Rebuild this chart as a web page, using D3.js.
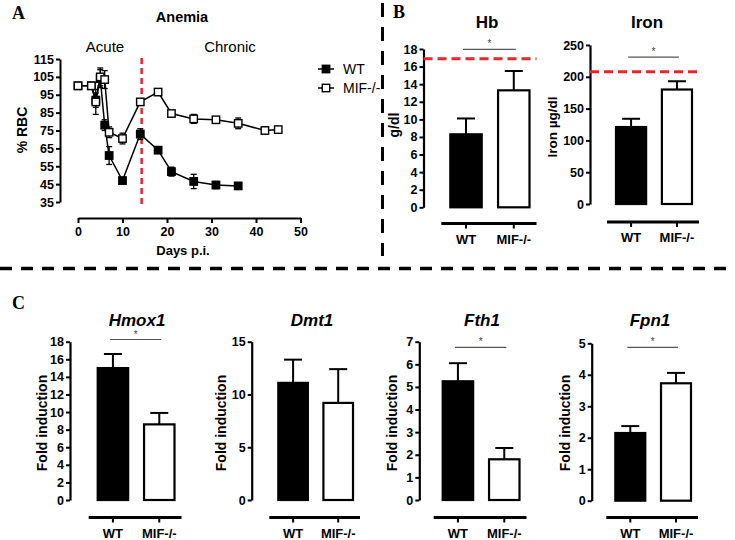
<!DOCTYPE html>
<html>
<head>
<meta charset="utf-8">
<script src="https://cdn.jsdelivr.net/npm/d3@7"></script>
<style>
  html, body { margin: 0; padding: 0; background: #fff; }
  svg { display: block; }
  text { font-family: Arial, "Liberation Sans", sans-serif; }
</style>
</head>
<body>
<svg id="chart" width="735" height="540"></svg>
<script>
// ---------------- DATA ----------------
// Panel A: Anemia time course (% RBC)
const days = [0, 3, 4, 5, 6, 7, 10, 14, 18, 21, 26, 31, 36, 42, 45];
const wtRBC = [100, 100, 92, 104, 78, 61, 47, 73, 64, 52, 46.5, 44.5, 44, null, null];
const wtRBCErr = [0, 0, 4, 5, 3, 5, 1.5, 3, 1, 2.5, 4, 2, 1, null, null];
const mifRBC = [100, 100, 91, 105, 103.5, 74, 70.5, 91, 96.5, 84.5, 81.5, 81, 79, 75, 75.5];
const mifRBCErr = [0, 0, 7, 5, 5, 3, 3, 0, 0, 0, 2.5, 0, 3, 2, 0];
const xTicksA = [0, 10, 20, 30, 40, 50];
const yTicksA = [35, 45, 55, 65, 75, 85, 95, 105, 115];
const transitionDay = 14.3;

// Groups
const groups = ["WT", "MIF-/-"];

// Panel B
const hbValues = [8.3, 13.3];
const hbErrors = [1.8, 2.2];
const hbTicks = [0, 2, 4, 6, 8, 10, 12, 14, 16, 18];
const hbNormal = 16.9;
const ironValues = [121, 180];
const ironErrors = [13, 13];
const ironTicks = [0, 50, 100, 150, 200, 250];
const ironNormal = 208;

// Panel C
const hmoxValues = [15.0, 8.6];
const hmoxErrors = [1.6, 1.3];
const hmoxTicks = [0, 2, 4, 6, 8, 10, 12, 14, 16, 18];
const dmtValues = [11.1, 9.2];
const dmtErrors = [2.2, 3.2];
const dmtTicks = [0, 5, 10, 15];
const fthValues = [5.25, 1.8];
const fthErrors = [0.8, 0.5];
const fthTicks = [0, 1, 2, 3, 4, 5, 6, 7];
const fpnValues = [2.15, 3.73];
const fpnErrors = [0.22, 0.33];
const fpnTicks = [0, 1, 2, 3, 4, 5];

// ---------------- DRAW ----------------
const svg = d3.select("#chart");
const RED = "#e8262a";
const TICK_FONT = "12.5px";
const intFmt = d3.format("d");

// separators
svg.append("line").attr("x1", 382.5).attr("x2", 382.5).attr("y1", 3).attr("y2", 256)
  .attr("stroke", "#000").attr("stroke-width", 3).attr("stroke-dasharray", "14,10");
svg.append("line").attr("x1", 0).attr("x2", 735).attr("y1", 268.5).attr("y2", 268.5)
  .attr("stroke", "#000").attr("stroke-width", 3.5).attr("stroke-dasharray", "12,9");

// panel letters
function letter(t, x, y) {
  svg.append("text").attr("x", x).attr("y", y).text(t)
    .style("font-family", "'Liberation Serif', 'Times New Roman', serif")
    .style("font-weight", "bold").style("font-size", "18px");
}
letter("A", 12, 19);
letter("B", 393, 18);
letter("C", 12, 309);

// ---------- Panel A ----------
(function () {
  const x = d3.scaleLinear().domain([0, 50]).range([78, 300.5]);
  const y = d3.scaleLinear().domain([35, 115]).range([202, 59]);
  const g = svg.append("g");

  g.append("text").attr("x", 182).attr("y", 22).attr("text-anchor", "middle")
    .style("font-weight", "bold").style("font-size", "14.5px").text("Anemia");
  g.append("text").attr("x", 105).attr("y", 52).attr("text-anchor", "middle")
    .style("font-size", "15px").text("Acute");
  g.append("text").attr("x", 230).attr("y", 52).attr("text-anchor", "middle")
    .style("font-size", "15px").text("Chronic");

  // y axis
  const ya = g.append("g").attr("transform", "translate(60,0)")
    .call(d3.axisLeft(y).tickValues(yTicksA).tickFormat(intFmt).tickSize(4).tickPadding(2).tickSizeOuter(0));
  ya.select(".domain").attr("stroke-width", 2);
  ya.selectAll(".tick line").attr("stroke-width", 2);
  ya.selectAll("text").style("font-weight", "bold").style("font-size", TICK_FONT)
    .style("font-family", "Arial, 'Liberation Sans', sans-serif");

  // x axis
  const xa = g.append("g").attr("transform", "translate(0,218)")
    .call(d3.axisBottom(x).tickValues(xTicksA).tickFormat(intFmt).tickSize(5).tickPadding(4).tickSizeOuter(0));
  xa.select(".domain").attr("stroke-width", 2);
  xa.selectAll(".tick line").attr("stroke-width", 2);
  xa.selectAll("text").style("font-weight", "bold").style("font-size", TICK_FONT)
    .style("font-family", "Arial, 'Liberation Sans', sans-serif");

  g.append("text").attr("x", 183).attr("y", 255).attr("text-anchor", "middle")
    .style("font-weight", "bold").style("font-size", "13px").text("Days p.i.");
  g.append("text").attr("transform", "translate(27,130) rotate(-90)").attr("text-anchor", "middle")
    .style("font-weight", "bold").style("font-size", "14px").text("% RBC");

  // red dashed transition line
  g.append("line").attr("x1", x(transitionDay)).attr("x2", x(transitionDay))
    .attr("y1", 58).attr("y2", 205).attr("stroke", RED).attr("stroke-width", 2.5)
    .attr("stroke-dasharray", "6,4");

  function series(vals, errs, filled) {
    const pts = days.map((d, i) => ({ d, v: vals[i], e: errs[i] })).filter(p => p.v != null);
    const line = d3.line().x(p => x(p.d)).y(p => y(p.v));
    g.append("path").attr("d", line(pts)).attr("fill", "none").attr("stroke", "#000").attr("stroke-width", 1.5);
    const eg = g.append("g");
    pts.filter(p => p.e > 0).forEach(p => {
      eg.append("line").attr("x1", x(p.d)).attr("x2", x(p.d)).attr("y1", y(p.v - p.e)).attr("y2", y(p.v + p.e))
        .attr("stroke", "#000").attr("stroke-width", 1.3);
      [p.v - p.e, p.v + p.e].forEach(v => eg.append("line").attr("x1", x(p.d) - 3).attr("x2", x(p.d) + 3)
        .attr("y1", y(v)).attr("y2", y(v)).attr("stroke", "#000").attr("stroke-width", 1.3));
    });
    g.append("g").selectAll("rect").data(pts).join("rect")
      .attr("x", p => x(p.d) - 3.7).attr("y", p => y(p.v) - 3.7).attr("width", 7.4).attr("height", 7.4)
      .attr("fill", filled ? "#000" : "#fff").attr("stroke", "#000").attr("stroke-width", 1.4);
  }
  series(wtRBC, wtRBCErr, true);
  series(mifRBC, mifRBCErr, false);

  // legend
  const leg = g.append("g");
  [[groups[0], true, 69], [groups[1], false, 88]].forEach(([name, filled, ly]) => {
    leg.append("line").attr("x1", 318).attr("x2", 334).attr("y1", ly).attr("y2", ly)
      .attr("stroke", "#000").attr("stroke-width", 1.5);
    leg.append("rect").attr("x", 322.3).attr("y", ly - 3.7).attr("width", 7.4).attr("height", 7.4)
      .attr("fill", filled ? "#000" : "#fff").attr("stroke", "#000").attr("stroke-width", 1.4);
    leg.append("text").attr("x", 343).attr("y", ly + 5).style("font-size", "14px").text(name);
  });
})();

// ---------- Bar panels ----------
function barPanel(o) {
  const g = svg.append("g");
  const y = d3.scaleLinear().domain([0, o.ticks[o.ticks.length - 1]]).range([o.yBot, o.yTop]);
  const x = d3.scaleBand().domain(groups).range([o.b0, o.b1]).paddingInner(0.3).paddingOuter(0);
  const bw = x.bandwidth();

  // title
  const t = g.append("text").attr("x", o.titleX).attr("y", o.titleY).attr("text-anchor", "middle")
    .style("font-weight", "bold").style("font-size", "17px").text(o.title);
  if (o.italic) t.style("font-style", "italic");

  // y axis
  const ya = g.append("g").attr("transform", `translate(${o.axisX},0)`)
    .call(d3.axisLeft(y).tickValues(o.ticks).tickFormat(intFmt).tickSize(4).tickPadding(2).tickSizeOuter(0));
  ya.select(".domain").attr("stroke-width", 2.2);
  ya.selectAll(".tick line").attr("stroke-width", 2);
  ya.selectAll("text").style("font-weight", "bold").style("font-size", TICK_FONT)
    .style("font-family", "Arial, 'Liberation Sans', sans-serif");

  g.append("text").attr("transform", `translate(${o.labelX},${o.labelY}) rotate(-90)`)
    .attr("text-anchor", "middle").style("font-weight", "bold").style("font-size", o.labelSize || "14px")
    .text(o.ylabel);

  const data = groups.map((k, i) => ({ k, v: o.values[i], e: o.errors[i] }));
  // error bars (upper only)
  data.forEach(d => {
    const cx = x(d.k) + bw / 2;
    g.append("line").attr("x1", cx).attr("x2", cx).attr("y1", y(d.v)).attr("y2", y(d.v + d.e))
      .attr("stroke", "#000").attr("stroke-width", 2);
    g.append("line").attr("x1", cx - 9).attr("x2", cx + 9).attr("y1", y(d.v + d.e)).attr("y2", y(d.v + d.e))
      .attr("stroke", "#000").attr("stroke-width", 2);
  });
  g.selectAll("rect.bar").data(data).join("rect").attr("class", "bar")
    .attr("x", d => x(d.k) + 1).attr("y", d => y(d.v)).attr("width", bw - 2).attr("height", d => y(0) - y(d.v))
    .attr("fill", (d, i) => i === 0 ? "#000" : "#fff").attr("stroke", "#000").attr("stroke-width", 2.2);

  // bottom axis
  g.append("line").attr("x1", o.b0 - 8).attr("x2", o.b1 + 6).attr("y1", o.xAxisY).attr("y2", o.xAxisY)
    .attr("stroke", "#000").attr("stroke-width", 2.8);
  groups.forEach(k => {
    const cx = x(k) + bw / 2;
    g.append("line").attr("x1", cx).attr("x2", cx).attr("y1", o.xAxisY).attr("y2", o.xAxisY + 5)
      .attr("stroke", "#000").attr("stroke-width", 2);
    g.append("text").attr("x", cx).attr("y", o.xAxisY + 20).attr("text-anchor", "middle")
      .style("font-weight", "bold").style("font-size", "13px").text(k);
  });

  // reference line
  if (o.normal != null) {
    g.append("line").attr("x1", o.axisX).attr("x2", o.b1 + 6).attr("y1", y(o.normal)).attr("y2", y(o.normal))
      .attr("stroke", RED).attr("stroke-width", 3).attr("stroke-dasharray", "9,5");
  }
  // significance
  if (o.sig != null) {
    const x1 = x(groups[0]) + bw / 2 - 3, x2 = x(groups[1]) + bw / 2 + 2;
    g.append("line").attr("x1", x1).attr("x2", x2).attr("y1", y(o.sig)).attr("y2", y(o.sig))
      .attr("stroke", "#555").attr("stroke-width", 1.2);
    g.append("text").attr("x", (x1 + x2) / 2).attr("y", y(o.sig) - 2).attr("text-anchor", "middle")
      .style("font-size", "10px").attr("fill", "#444").text("*");
  }
}

barPanel({ title: "Hb", titleX: 487, titleY: 28, axisX: 423.5, yTop: 49, yBot: 207.3,
  ticks: hbTicks, values: hbValues, errors: hbErrors, b0: 449.3, b1: 530.5, xAxisY: 223.5,
  ylabel: "g/dl", labelX: 399, labelY: 125, normal: hbNormal, sig: 17.95 });
barPanel({ title: "Iron", titleX: 647, titleY: 28, axisX: 590, yTop: 45, yBot: 204,
  ticks: ironTicks, values: ironValues, errors: ironErrors, b0: 615, b1: 693, xAxisY: 222,
  ylabel: "Iron µg/dl", labelX: 557, labelY: 127, labelSize: "13.5px", normal: ironNormal, sig: 231 });

barPanel({ title: "Hmox1", italic: true, titleX: 137, titleY: 326, axisX: 70, yTop: 341.7, yBot: 500,
  ticks: hmoxTicks, values: hmoxValues, errors: hmoxErrors, b0: 96.7, b1: 175.5, xAxisY: 517.5,
  ylabel: "Fold induction", labelX: 47, labelY: 423, sig: 18.25 });
barPanel({ title: "Dmt1", italic: true, titleX: 312, titleY: 326, axisX: 251.7, yTop: 341.7, yBot: 500,
  ticks: dmtTicks, values: dmtValues, errors: dmtErrors, b0: 277.3, b1: 354, xAxisY: 517.5,
  ylabel: "Fold induction", labelX: 226, labelY: 423 });
barPanel({ title: "Fth1", italic: true, titleX: 482, titleY: 326, axisX: 419.3, yTop: 341.7, yBot: 500,
  ticks: fthTicks, values: fthValues, errors: fthErrors, b0: 441.7, b1: 520.5, xAxisY: 517.5,
  ylabel: "Fold induction", labelX: 397, labelY: 423, sig: 6.75 });
barPanel({ title: "Fpn1", italic: true, titleX: 650, titleY: 326, axisX: 591.7, yTop: 343.3, yBot: 500.7,
  ticks: fpnTicks, values: fpnValues, errors: fpnErrors, b0: 614.3, b1: 692, xAxisY: 517.5,
  ylabel: "Fold induction", labelX: 570, labelY: 423, sig: 4.87 });
</script>
</body>
</html>
